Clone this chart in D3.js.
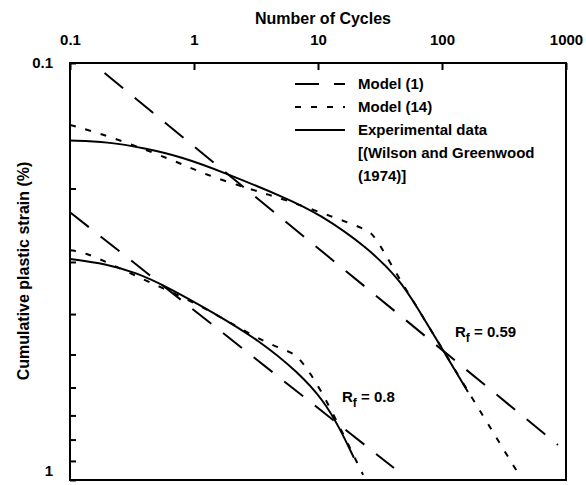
<!DOCTYPE html>
<html lang="en">
<head>
<meta charset="UTF-8">
<title>Cumulative plastic strain</title>
<script src="https://d3js.org/d3.v7.min.js"></script>
<style>
    body { margin: 0; background: #fff; }
    text { font-family: "Liberation Sans", Arial, sans-serif; font-weight: bold; fill: #000; }
    .frame { fill: none; stroke: #000; stroke-width: 2; }
    .curve { fill: none; stroke: #000; stroke-width: 2; }
    .dash { stroke-dasharray: 24, 15; }
    .dot { stroke-dasharray: 6, 10; }
</style>
</head>
<body>
<script>
    // data: [cycles, strain %]
    const xTicks = [0.1, 1, 10, 100, 1000];
    const yTicks = [0.1, 0.2, 0.3, 0.4, 0.5, 0.6, 0.7, 0.8, 0.9, 1];
    const yLabels = [0.1, 1];

    const model1_059 = [[0.19, 0.1057], [861, 0.824]];
    const model1_08 = [[0.1, 0.228], [41, 0.936]];

    const model14_059 = [[0.1, 0.1408], [0.195, 0.1488], [0.677, 0.1708], [1.25, 0.1856], [2.99, 0.2016],
        [5.52, 0.213], [13.2, 0.234], [24, 0.250], [28, 0.258], [33.4, 0.281], [45.8, 0.331], [62.9, 0.385],
        [175, 0.636], [410, 0.962]];
    const model14_08 = [[0.1, 0.281], [0.135, 0.2855], [0.195, 0.300], [0.434, 0.335], [1.10, 0.380],
        [1.91, 0.418], [3.81, 0.469], [5.9, 0.492], [6.8, 0.505], [8.0, 0.536], [11.0, 0.618], [23.1, 0.972]];

    const exp_059 = [[0.1, 0.1534], [0.2, 0.1545], [0.4, 0.160], [0.8, 0.168], [1.71, 0.1826], [5.52, 0.2107],
        [10.2, 0.230], [24.8, 0.276], [45.8, 0.331], [62.9, 0.385], [102, 0.488], [162, 0.615]];
    const exp_08 = [[0.1, 0.295], [0.195, 0.303], [0.341, 0.318], [0.595, 0.343], [1.42, 0.396],
        [3.34, 0.462], [7.03, 0.554], [11.0, 0.643], [14.8, 0.746], [19.5, 0.885]];

    const legendItems = [
        { cls: "dash", text: ["Model (1)"] },
        { cls: "dot", text: ["Model (14)"] },
        { cls: "", text: ["Experimental data", "[(Wilson and Greenwood", "(1974)]"] }
    ];

    const W = 586, H = 485;
    const m = { left: 70, right: 566, top: 63, bottom: 480 };

    const svg = d3.select("body").append("svg")
        .attr("width", W)
        .attr("height", H);

    const x = d3.scaleLog().domain([0.1, 1000]).range([m.left, m.right]);
    const y = d3.scaleLog().domain([0.1, 1]).range([m.top, m.bottom]);

    // top axis, ticks pointing inward
    const xAxis = svg.append("g")
        .attr("transform", `translate(0,${m.top})`)
        .call(d3.axisTop(x).tickValues(xTicks).tickSizeInner(-7).tickSizeOuter(0)
            .tickPadding(18).tickFormat(d => d3.format("~g")(d)));
    xAxis.select(".domain").remove();
    xAxis.selectAll("line").attr("stroke-width", 2);
    xAxis.selectAll("text").style("font-size", "15px").attr("font-family", null);

    const yAxis = svg.append("g")
        .attr("transform", `translate(${m.left},0)`)
        .call(d3.axisLeft(y).tickValues(yTicks).tickSizeInner(-6).tickSizeOuter(0)
            .tickPadding(17).tickFormat(d => yLabels.includes(d) ? d3.format("~g")(d) : ""));
    yAxis.select(".domain").remove();
    yAxis.selectAll("line").attr("stroke-width", 2);
    yAxis.selectAll("text").style("font-size", "15px").attr("font-family", null)
        .filter(d => d === 1).attr("dy", "-0.3em");

    svg.append("rect").attr("class", "frame")
        .attr("x", m.left).attr("y", m.top)
        .attr("width", m.right - m.left).attr("height", m.bottom - m.top);

    svg.append("text")
        .attr("x", 323).attr("y", 24)
        .attr("text-anchor", "middle")
        .style("font-size", "16px")
        .text("Number of Cycles");

    svg.append("text")
        .attr("transform", "translate(29,271) rotate(-90)")
        .attr("text-anchor", "middle")
        .style("font-size", "16px")
        .text("Cumulative plastic strain (%)");

    svg.append("clipPath").attr("id", "plot")
        .append("rect").attr("x", m.left).attr("y", m.top)
        .attr("width", m.right - m.left).attr("height", m.bottom - m.top);

    const line = d3.line().x(d => x(d[0])).y(d => y(d[1]));
    const smooth = d3.line().x(d => x(d[0])).y(d => y(d[1])).curve(d3.curveBasis);

    const plot = svg.append("g").attr("clip-path", "url(#plot)");
    [model1_059, model1_08].forEach(d => plot.append("path").attr("class", "curve dash").attr("d", line(d)));
    [model14_059, model14_08].forEach(d => plot.append("path").attr("class", "curve dot").attr("d", smooth(d)));
    [exp_059, exp_08].forEach(d => plot.append("path").attr("class", "curve").attr("d", smooth(d)));

    // legend
    const lg = svg.append("g").attr("transform", "translate(295,84)");
    let row = 0;
    legendItems.forEach(item => {
        lg.append("line").attr("class", "curve " + item.cls)
            .attr("x1", 0).attr("x2", 50)
            .attr("y1", row * 23).attr("y2", row * 23);
        item.text.forEach(t => {
            lg.append("text").attr("x", 63).attr("y", row * 23 + 5)
                .style("font-size", "15px").text(t);
            row++;
        });
    });

    // Rf labels
    const rf = [{ x: 455, y: 337, v: "0.59" }, { x: 342, y: 402, v: "0.8" }];
    rf.forEach(r => {
        const t = svg.append("text").attr("x", r.x).attr("y", r.y).style("font-size", "15px");
        t.append("tspan").text("R");
        t.append("tspan").attr("dy", 5).style("font-size", "12px").text("f");
        t.append("tspan").attr("dy", -5).text(" = " + r.v);
    });
</script>
</body>
</html>
